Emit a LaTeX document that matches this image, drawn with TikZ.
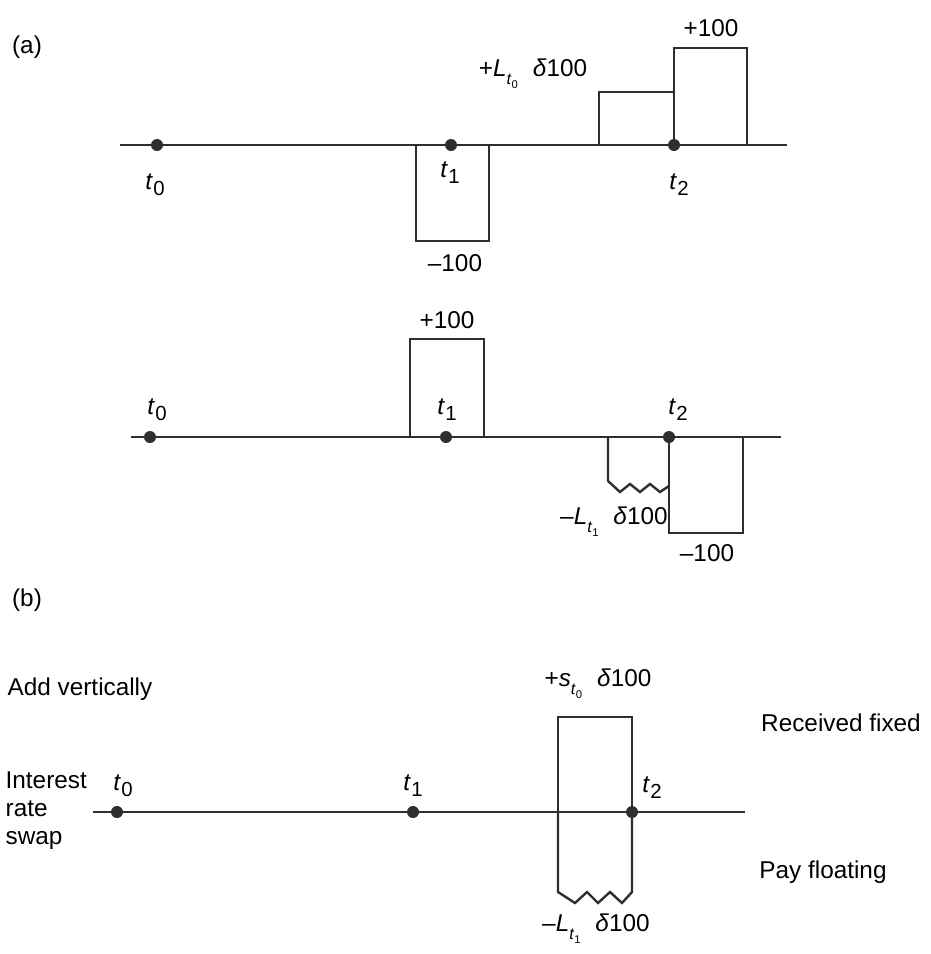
\documentclass[tikz,border=0pt]{standalone}
\usepackage{fontspec}
\setmainfont{Liberation Sans}
\usetikzlibrary{positioning}
\definecolor{lineGray}{HTML}{2E2E2E}
\tikzset{
  axisline/.style={line width=1.7pt, draw=lineGray},
  cashbox/.style={line width=1.7pt, draw=lineGray, line join=miter},
  tdot/.style={circle, fill=lineGray, inner sep=0pt, minimum size=0.3cm},
  lbl/.style={font=\fontsize{17.3}{20}\selectfont, text=black, inner sep=1pt},
}
\newcommand{\tsub}[1]{\textit{t}\kern0.3pt\raisebox{-0.45ex}{\fontsize{14.5}{15}\selectfont #1}}
\newcommand{\ssub}[1]{\raisebox{-0.6ex}{\fontsize{11.5}{12}\selectfont\textit{t}\raisebox{-0.5ex}{\fontsize{8}{9}\selectfont #1}}}

\begin{document}
\begin{tikzpicture}[x=0.025cm, y=-0.025cm]
  \useasboundingbox (0,0) rectangle (930,954);

  % (a) first leg
  \node[lbl] (tagA) at (27,47) {(a)};
  \coordinate (a1L) at (120,145);
  \coordinate (a1R) at (787,145);
  \draw[axisline] (a1L) -- (a1R);
  \draw[cashbox] (416,145) |- (489,241) -- (489,145);
  \draw[cashbox] (599,145) |- (674,92);
  \draw[cashbox] (674,145) |- (747,48) -- (747,145);
  \node[tdot] (a1t0) at (157,145) {};
  \node[tdot] (a1t1) at (451,145) {};
  \node[tdot] (a1t2) at (674,145) {};
  \node[lbl] (a1l0) at (155,185) {\tsub{0}};
  \node[lbl] (a1l1) at (450,173) {\tsub{1}};
  \node[lbl] (a1l2) at (679,185) {\tsub{2}};
  \node[lbl] (a1neg) at (455,263) {–100};
  \node[lbl] (a1pos) at (711,28) {+100};
  \node[lbl] (a1flt) at (533,74) {+\textit{L}\ssub{0}\,\, \textit{δ}100};

  % (a) second leg
  \coordinate (a2L) at (131,437);
  \coordinate (a2R) at (781,437);
  \draw[axisline] (a2L) -- (a2R);
  \draw[cashbox] (410,437) |- (484,339) -- (484,437);
  \draw[cashbox] (669,437) |- (743,533) -- (743,437);
  \draw[cashbox] (608,437) -- (608,481) -- (620,492) -- (630,484) -- (640,492)
    -- (650,484) -- (660,492) -- (669,486);
  \node[tdot] (a2t0) at (150,437) {};
  \node[tdot] (a2t1) at (446,437) {};
  \node[tdot] (a2t2) at (669,437) {};
  \node[lbl] (a2l0) at (157,410) {\tsub{0}};
  \node[lbl] (a2l1) at (447,410) {\tsub{1}};
  \node[lbl] (a2l2) at (678,410) {\tsub{2}};
  \node[lbl] (a2pos) at (447,320) {+100};
  \node[lbl] (a2neg) at (707,553) {–100};
  \node[lbl] (a2flt) at (614,522) {–\textit{L}\ssub{1}\,\, \textit{δ}100};

  % (b) the swap
  \node[lbl] (tagB) at (27,600) {(b)};
  \node[lbl, anchor=west] (addv) at (6,689) {Add vertically};
  \node[lbl, anchor=west, align=left] (irs) at (4,811)
    {Interest\\rate\\swap};
  \node[lbl] (recv) at (841,723) {Received fixed};
  \node[lbl] (payf) at (823,872) {Pay floating};
  \coordinate (bL) at (93,812);
  \coordinate (bR) at (745,812);
  \draw[axisline] (bL) -- (bR);
  \draw[cashbox] (558,812) |- (632,717) -- (632,812);
  \draw[cashbox] (558,812) -- (558,892) -- (575,903) -- (587,892) -- (598,903)
    -- (610,892) -- (622,903) -- (632,892) -- (632,812);
  \node[tdot] (bt0) at (117,812) {};
  \node[tdot] (bt1) at (413,812) {};
  \node[tdot] (bt2) at (632,812) {};
  \node[lbl] (bl0) at (123,786) {\tsub{0}};
  \node[lbl] (bl1) at (413,786) {\tsub{1}};
  \node[lbl] (bl2) at (652,788) {\tsub{2}};
  \node[lbl] (bfix) at (598,684) {+\textit{s}\ssub{0}\,\, \textit{δ}100};
  \node[lbl] (bflt) at (596,929) {–\textit{L}\ssub{1}\,\, \textit{δ}100};
\end{tikzpicture}
\end{document}
